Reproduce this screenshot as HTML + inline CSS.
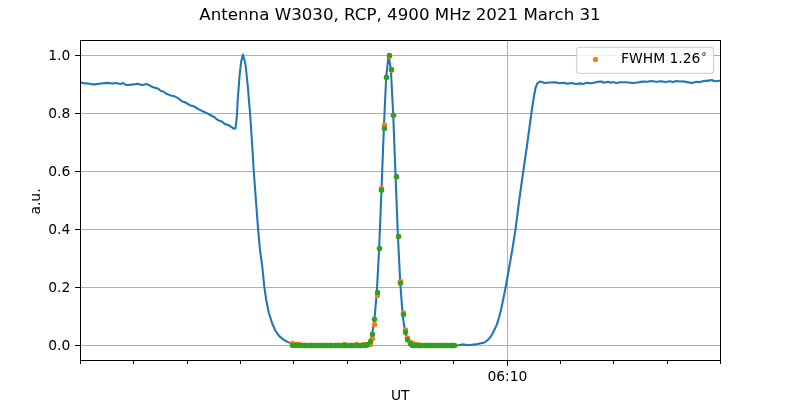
<!DOCTYPE html>
<html lang="en"><head><meta charset="utf-8"><title>Antenna W3030, RCP, 4900 MHz 2021 March 31</title>
<style>html,body{margin:0;padding:0;background:#fff;width:800px;height:400px;overflow:hidden}svg{will-change:transform}</style>
</head><body>
<svg width="800" height="400" viewBox="0 0 800 400" style="display:block">
<rect width="800" height="400" fill="#fff"/>
<defs><clipPath id="ax"><rect x="80" y="40" width="640" height="320"/></clipPath></defs>
<g stroke="#b0b0b0" stroke-width="1.1" shape-rendering="crispEdges">
<line x1="80" x2="720" y1="55.5" y2="55.5"/>
<line x1="80" x2="720" y1="113.5" y2="113.5"/>
<line x1="80" x2="720" y1="171.5" y2="171.5"/>
<line x1="80" x2="720" y1="229.5" y2="229.5"/>
<line x1="80" x2="720" y1="287.5" y2="287.5"/>
<line x1="80" x2="720" y1="345.5" y2="345.5"/>
<line x1="507.5" x2="507.5" y1="40" y2="360"/>
</g>
<g stroke="#000" stroke-width="1.1" shape-rendering="crispEdges">
<line x1="75.1" x2="80" y1="55.5" y2="55.5"/>
<line x1="75.1" x2="80" y1="113.5" y2="113.5"/>
<line x1="75.1" x2="80" y1="171.5" y2="171.5"/>
<line x1="75.1" x2="80" y1="229.5" y2="229.5"/>
<line x1="75.1" x2="80" y1="287.5" y2="287.5"/>
<line x1="75.1" x2="80" y1="345.5" y2="345.5"/>
<line x1="80.5" x2="80.5" y1="360.5" y2="364"/>
<line x1="133.5" x2="133.5" y1="360.5" y2="364"/>
<line x1="187.5" x2="187.5" y1="360.5" y2="364"/>
<line x1="240.5" x2="240.5" y1="360.5" y2="364"/>
<line x1="293.5" x2="293.5" y1="360.5" y2="364"/>
<line x1="347.5" x2="347.5" y1="360.5" y2="364"/>
<line x1="400.5" x2="400.5" y1="360.5" y2="364"/>
<line x1="453.5" x2="453.5" y1="360.5" y2="364"/>
<line x1="507.5" x2="507.5" y1="360.5" y2="366"/>
<line x1="560.5" x2="560.5" y1="360.5" y2="364"/>
<line x1="613.5" x2="613.5" y1="360.5" y2="364"/>
<line x1="667.5" x2="667.5" y1="360.5" y2="364"/>
<line x1="720.5" x2="720.5" y1="360.5" y2="364"/>
</g>
<g clip-path="url(#ax)">
<polyline points="80.00,82.40 81.00,82.50 84.75,83.50 87.90,83.40 91.00,84.10 94.75,84.40 101.00,83.50 107.25,82.90 112.25,83.50 116.00,83.10 120.40,84.00 123.25,83.10 125.40,84.75 128.50,85.00 133.50,84.40 137.25,83.75 142.25,85.00 147.25,84.10 152.25,86.90 157.90,88.50 161.00,91.00 163.50,91.50 166.00,93.50 171.00,95.60 175.00,96.60 178.10,98.10 181.90,101.25 185.00,102.25 190.60,105.60 193.75,106.25 198.75,109.40 207.50,113.50 214.40,117.25 218.10,120.25 221.90,121.60 224.40,123.75 229.40,125.60 233.75,128.70 235.60,128.20 236.90,116.25 237.70,100.00 238.50,90.00 239.60,75.00 240.80,65.00 241.30,61.25 242.90,54.50 244.75,61.25 245.60,65.00 246.60,75.00 247.90,87.50 248.90,100.00 250.00,112.50 251.25,131.25 252.50,150.00 253.75,171.25 255.90,200.00 258.10,229.40 260.00,250.00 262.25,266.25 264.40,287.50 266.25,300.00 268.75,312.50 271.90,322.50 275.00,330.00 278.75,335.60 283.10,339.40 287.50,341.90 290.60,343.10 293.00,344.90 297.00,345.50 301.62,345.50 303.97,345.50 306.32,345.50 308.67,345.50 311.01,345.50 313.36,345.50 315.71,345.50 318.06,345.50 320.41,345.50 322.76,345.50 325.11,345.50 327.46,345.50 329.81,345.50 332.16,345.50 334.50,345.50 336.85,345.50 339.20,345.50 341.55,345.50 343.90,345.50 346.25,345.50 348.60,345.50 350.95,345.50 353.30,345.50 355.65,345.50 358.00,345.50 360.34,345.50 362.69,345.50 365.04,345.30 367.39,344.80 369.74,341.40 372.09,334.30 374.44,319.30 376.79,292.50 379.14,248.50 381.49,190.30 383.83,128.50 386.18,77.30 388.53,55.50 390.88,69.50 393.23,115.30 395.58,176.50 397.93,236.50 400.28,283.20 402.63,314.50 404.98,332.20 407.32,339.80 409.67,344.00 412.02,345.50 414.37,345.50 416.72,345.50 419.07,345.50 421.42,345.50 423.77,345.50 426.12,345.50 428.47,345.50 430.81,345.50 433.16,345.50 435.51,345.50 437.86,345.50 440.21,345.50 442.56,345.50 444.91,345.50 447.26,345.50 449.61,345.50 451.96,345.50 454.30,345.50 457.20,345.50 462.50,344.40 468.75,345.25 475.00,344.40 480.00,343.40 484.40,342.50 487.50,340.25 490.60,336.90 493.75,331.25 496.90,324.40 499.40,316.25 501.25,308.75 503.10,300.00 505.60,287.50 508.75,270.00 512.25,250.00 515.50,229.50 519.25,200.00 523.25,171.50 526.75,147.50 531.25,114.00 533.75,97.50 535.60,87.50 537.50,83.10 540.00,81.60 545.00,82.99 550.00,82.42 555.00,82.40 560.00,83.24 563.75,82.83 567.50,83.82 571.25,82.92 576.25,83.91 580.00,83.37 583.10,84.05 586.25,82.89 591.25,83.22 595.00,82.44 598.10,81.73 601.50,81.46 603.75,82.73 608.10,81.85 610.60,82.69 612.50,82.00 616.25,83.10 620.60,82.22 625.00,82.30 628.75,82.51 632.50,83.08 637.50,82.46 642.50,81.64 647.50,81.81 651.25,81.01 656.25,81.69 661.25,81.23 665.00,82.02 670.00,81.32 673.10,81.99 676.25,81.00 680.00,81.52 683.75,81.41 687.50,82.11 691.90,83.01 696.25,81.83 700.00,82.05 703.75,80.91 707.50,80.89 711.90,79.96 714.40,81.28 720.00,80.80" fill="none" stroke="#1f77b4" stroke-width="2.08" stroke-linejoin="round" stroke-linecap="butt"/>
<g fill="#ff7f0e">
<circle cx="292.5" cy="343.50" r="2.72"/>
<circle cx="295.5" cy="344.50" r="2.72"/>
<circle cx="297.5" cy="344.50" r="2.72"/>
<circle cx="299.5" cy="344.50" r="2.72"/>
<circle cx="302.5" cy="345.50" r="2.72"/>
<circle cx="304.5" cy="345.50" r="2.72"/>
<circle cx="306.5" cy="345.50" r="2.72"/>
<circle cx="309.5" cy="345.50" r="2.72"/>
<circle cx="311.5" cy="345.50" r="2.72"/>
<circle cx="313.5" cy="345.50" r="2.72"/>
<circle cx="316.5" cy="345.50" r="2.72"/>
<circle cx="318.5" cy="345.50" r="2.72"/>
<circle cx="320.5" cy="345.50" r="2.72"/>
<circle cx="323.5" cy="345.50" r="2.72"/>
<circle cx="325.5" cy="345.50" r="2.72"/>
<circle cx="327.5" cy="345.50" r="2.72"/>
<circle cx="330.5" cy="345.50" r="2.72"/>
<circle cx="332.5" cy="345.50" r="2.72"/>
<circle cx="335.5" cy="345.50" r="2.72"/>
<circle cx="337.5" cy="345.50" r="2.72"/>
<circle cx="339.5" cy="345.50" r="2.72"/>
<circle cx="342.5" cy="345.50" r="2.72"/>
<circle cx="344.5" cy="344.40" r="2.72"/>
<circle cx="346.5" cy="345.50" r="2.72"/>
<circle cx="349.5" cy="345.50" r="2.72"/>
<circle cx="351.5" cy="345.50" r="2.72"/>
<circle cx="353.5" cy="345.50" r="2.72"/>
<circle cx="356.5" cy="344.40" r="2.72"/>
<circle cx="358.5" cy="345.50" r="2.72"/>
<circle cx="360.5" cy="345.50" r="2.72"/>
<circle cx="363.5" cy="344.40" r="2.72"/>
<circle cx="365.5" cy="345.30" r="2.72"/>
<circle cx="367.5" cy="344.80" r="2.72"/>
<circle cx="370.5" cy="344.40" r="2.72"/>
<circle cx="372.5" cy="338.50" r="2.72"/>
<circle cx="374.5" cy="324.50" r="2.72"/>
<circle cx="377.5" cy="295.50" r="2.72"/>
<circle cx="379.5" cy="248.50" r="2.72"/>
<circle cx="381.5" cy="188.50" r="2.72"/>
<circle cx="384.5" cy="125.00" r="2.72"/>
<circle cx="386.5" cy="77.70" r="2.72"/>
<circle cx="389.5" cy="56.20" r="2.72"/>
<circle cx="391.5" cy="70.30" r="2.72"/>
<circle cx="393.5" cy="115.50" r="2.72"/>
<circle cx="396.5" cy="177.20" r="2.72"/>
<circle cx="398.5" cy="236.50" r="2.72"/>
<circle cx="400.5" cy="281.50" r="2.72"/>
<circle cx="403.5" cy="313.00" r="2.72"/>
<circle cx="405.5" cy="330.00" r="2.72"/>
<circle cx="407.5" cy="338.00" r="2.72"/>
<circle cx="410.5" cy="342.50" r="2.72"/>
<circle cx="412.5" cy="343.20" r="2.72"/>
<circle cx="414.5" cy="344.10" r="2.72"/>
<circle cx="417.5" cy="344.60" r="2.72"/>
<circle cx="419.5" cy="345.50" r="2.72"/>
<circle cx="421.5" cy="345.50" r="2.72"/>
<circle cx="424.5" cy="345.50" r="2.72"/>
<circle cx="426.5" cy="345.50" r="2.72"/>
<circle cx="428.5" cy="345.50" r="2.72"/>
<circle cx="431.5" cy="345.50" r="2.72"/>
<circle cx="433.5" cy="345.50" r="2.72"/>
<circle cx="436.5" cy="345.50" r="2.72"/>
<circle cx="438.5" cy="345.50" r="2.72"/>
<circle cx="440.5" cy="345.50" r="2.72"/>
<circle cx="443.5" cy="345.50" r="2.72"/>
<circle cx="445.5" cy="345.50" r="2.72"/>
<circle cx="447.5" cy="345.50" r="2.72"/>
<circle cx="450.5" cy="345.50" r="2.72"/>
<circle cx="452.5" cy="345.50" r="2.72"/>
<circle cx="454.5" cy="345.50" r="2.72"/>
</g><g fill="#2ca02c">
<circle cx="292.5" cy="345.50" r="2.72"/>
<circle cx="295.5" cy="345.50" r="2.72"/>
<circle cx="297.5" cy="345.50" r="2.72"/>
<circle cx="299.5" cy="345.50" r="2.72"/>
<circle cx="302.5" cy="345.50" r="2.72"/>
<circle cx="304.5" cy="345.50" r="2.72"/>
<circle cx="306.5" cy="345.50" r="2.72"/>
<circle cx="309.5" cy="345.50" r="2.72"/>
<circle cx="311.5" cy="345.50" r="2.72"/>
<circle cx="313.5" cy="345.50" r="2.72"/>
<circle cx="316.5" cy="345.50" r="2.72"/>
<circle cx="318.5" cy="345.50" r="2.72"/>
<circle cx="320.5" cy="345.50" r="2.72"/>
<circle cx="323.5" cy="345.50" r="2.72"/>
<circle cx="325.5" cy="345.50" r="2.72"/>
<circle cx="327.5" cy="345.50" r="2.72"/>
<circle cx="330.5" cy="345.50" r="2.72"/>
<circle cx="332.5" cy="345.50" r="2.72"/>
<circle cx="335.5" cy="345.50" r="2.72"/>
<circle cx="337.5" cy="345.50" r="2.72"/>
<circle cx="339.5" cy="345.50" r="2.72"/>
<circle cx="342.5" cy="345.50" r="2.72"/>
<circle cx="344.5" cy="345.50" r="2.72"/>
<circle cx="346.5" cy="345.50" r="2.72"/>
<circle cx="349.5" cy="345.50" r="2.72"/>
<circle cx="351.5" cy="345.50" r="2.72"/>
<circle cx="353.5" cy="345.50" r="2.72"/>
<circle cx="356.5" cy="345.50" r="2.72"/>
<circle cx="358.5" cy="345.50" r="2.72"/>
<circle cx="360.5" cy="345.50" r="2.72"/>
<circle cx="363.5" cy="345.50" r="2.72"/>
<circle cx="365.5" cy="345.30" r="2.72"/>
<circle cx="367.5" cy="344.80" r="2.72"/>
<circle cx="370.5" cy="341.40" r="2.72"/>
<circle cx="372.5" cy="334.30" r="2.72"/>
<circle cx="374.5" cy="319.30" r="2.72"/>
<circle cx="377.5" cy="292.50" r="2.72"/>
<circle cx="379.5" cy="248.50" r="2.72"/>
<circle cx="381.5" cy="190.30" r="2.72"/>
<circle cx="384.5" cy="128.50" r="2.72"/>
<circle cx="386.5" cy="77.30" r="2.72"/>
<circle cx="389.5" cy="55.50" r="2.72"/>
<circle cx="391.5" cy="69.50" r="2.72"/>
<circle cx="393.5" cy="115.30" r="2.72"/>
<circle cx="396.5" cy="176.50" r="2.72"/>
<circle cx="398.5" cy="236.50" r="2.72"/>
<circle cx="400.5" cy="283.20" r="2.72"/>
<circle cx="403.5" cy="314.50" r="2.72"/>
<circle cx="405.5" cy="332.20" r="2.72"/>
<circle cx="407.5" cy="339.80" r="2.72"/>
<circle cx="410.5" cy="344.00" r="2.72"/>
<circle cx="412.5" cy="345.50" r="2.72"/>
<circle cx="414.5" cy="345.50" r="2.72"/>
<circle cx="417.5" cy="345.50" r="2.72"/>
<circle cx="419.5" cy="345.50" r="2.72"/>
<circle cx="421.5" cy="345.50" r="2.72"/>
<circle cx="424.5" cy="345.50" r="2.72"/>
<circle cx="426.5" cy="345.50" r="2.72"/>
<circle cx="428.5" cy="345.50" r="2.72"/>
<circle cx="431.5" cy="345.50" r="2.72"/>
<circle cx="433.5" cy="345.50" r="2.72"/>
<circle cx="436.5" cy="345.50" r="2.72"/>
<circle cx="438.5" cy="345.50" r="2.72"/>
<circle cx="440.5" cy="345.50" r="2.72"/>
<circle cx="443.5" cy="345.50" r="2.72"/>
<circle cx="445.5" cy="345.50" r="2.72"/>
<circle cx="447.5" cy="345.50" r="2.72"/>
<circle cx="450.5" cy="345.50" r="2.72"/>
<circle cx="452.5" cy="345.50" r="2.72"/>
<circle cx="454.5" cy="345.50" r="2.72"/>
</g></g>
<rect x="80.5" y="40.5" width="640" height="320" fill="none" stroke="#000" stroke-width="1.1" shape-rendering="crispEdges"/>
<rect x="576.6" y="47.4" width="137" height="26" rx="2.8" fill="#fff" fill-opacity="0.8" stroke="#ccc" stroke-opacity="0.8" stroke-width="1.39"/>
<circle cx="595.5" cy="59.5" r="2.72" fill="#ff7f0e"/>
<g font-family="DejaVu Sans, Liberation Sans, sans-serif" fill="#000">
<text x="621" y="63" font-size="13.89">FWHM 1.26</text>
<text x="701.2" y="60.2" font-size="10.6">°</text>
<text x="400" y="19.6" font-size="16.67" text-anchor="middle">Antenna W3030, RCP, 4900 MHz 2021 March 31</text>
<text x="70.3" y="60.1" font-size="13.89" text-anchor="end">1.0</text>
<text x="70.3" y="118.1" font-size="13.89" text-anchor="end">0.8</text>
<text x="70.3" y="176.1" font-size="13.89" text-anchor="end">0.6</text>
<text x="70.3" y="234.1" font-size="13.89" text-anchor="end">0.4</text>
<text x="70.3" y="292.1" font-size="13.89" text-anchor="end">0.2</text>
<text x="70.3" y="350.1" font-size="13.89" text-anchor="end">0.0</text>
<text x="507.4" y="380.9" font-size="13.89" text-anchor="middle">06:10</text>
<text x="400.3" y="400" font-size="13.89" text-anchor="middle">UT</text>
<text transform="translate(40.4,201.5) rotate(-90)" font-size="13.89" text-anchor="middle">a.u.</text>
</g>
</svg>
</body></html>
